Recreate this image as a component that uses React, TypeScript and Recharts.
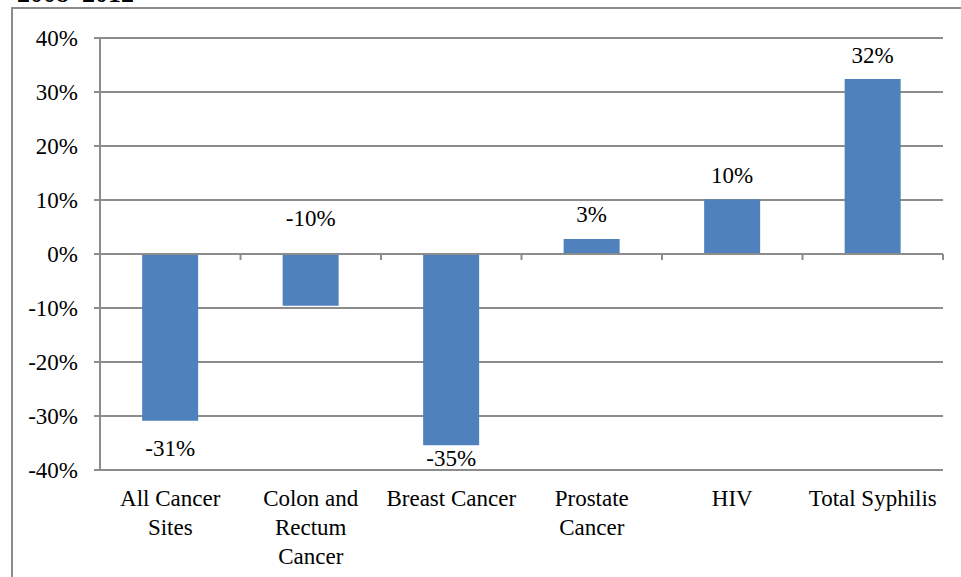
import React from "react";
import { BarChart, Bar, XAxis, YAxis, CartesianGrid, LabelList, ReferenceLine } from "recharts";

const categories = ["All Cancer\nSites", "Colon and\nRectum\nCancer", "Breast Cancer", "Prostate\nCancer", "HIV", "Total Syphilis"];
const changes = [-30.9, -9.6, -35.4, 2.8, 10.1, 32.4];
const changeLabels = ["-31%", "-10%", "-35%", "3%", "10%", "32%"];
const yTicks = [-40, -30, -20, -10, 0, 10, 20, 30, 40];

const data = categories.map((name, i) => ({ name, change: changes[i], label: changeLabels[i] }));

const FONT = "Liberation Serif, Times New Roman, serif";
const FS = 23;
const GRID = "#8c8c8c";
const BAR = "#4F81BD";

// the -10% label sits above the zero line in the original
const labelAboveAxis = new Set([1]);

function CategoryTick(props: any) {
  const { x, y, payload } = props;
  const lines = String(payload.value).split("\n");
  return (
    <text x={x} y={y} textAnchor="middle" fontFamily={FONT} fontSize={FS} fill="#000">
      {lines.map((l, i) => (
        <tspan key={i} x={x} dy={i === 0 ? 28 : 29}>{l}</tspan>
      ))}
    </text>
  );
}

function ValueLabel(props: any) {
  const { x, y, width, height, index } = props;
  const v = changes[index];
  const top = Math.min(y, y + height);
  const bottom = Math.max(y, y + height);
  const cx = x + width / 2;
  let cy;
  if (v >= 0) {
    cy = top - 24;
  } else if (labelAboveAxis.has(index)) {
    cy = top - 36;
  } else {
    const pxPerUnit = (bottom - top) / Math.abs(v);
    const plotBottom = top + 40 * pxPerUnit;
    cy = Math.min(bottom + 28, plotBottom - 12);
  }
  return (
    <text x={cx} y={cy} textAnchor="middle" dominantBaseline="central" fontFamily={FONT} fontSize={FS} fill="#000">
      {changeLabels[index]}
    </text>
  );
}

function ZeroAxis(props: any) {
  const { x1, y1, x2, y2 } = props;
  const n = categories.length;
  const step = (x2 - x1) / n;
  return (
    <g>
      <line x1={x1} y1={y1} x2={x2} y2={y2} stroke={GRID} strokeWidth={2} />
      {Array.from({ length: n + 1 }, (_, i) => (
        <line key={i} x1={x1 + i * step} x2={x1 + i * step} y1={y1} y2={y1 + 6} stroke={GRID} strokeWidth={2} />
      ))}
    </g>
  );
}

export default function App() {
  return (
    <div style={{ position: "absolute", left: 0, top: 0, width: 961, height: 577, overflow: "hidden", background: "#fff" }}>
      <div style={{ position: "absolute", left: 17, top: -19, fontFamily: FONT, fontWeight: "bold", fontSize: 26, lineHeight: "26px" }}>
        2008–2012
      </div>
      <div style={{ position: "absolute", left: 11, top: 7, width: 1000, height: 700, borderLeft: `2px solid ${GRID}`, borderTop: `2px solid ${GRID}` }} />
      <div style={{ position: "absolute", left: 0, top: 0 }}>
        <BarChart width={961} height={577} data={data} margin={{ top: 38, right: 18, bottom: 17, left: 0 }} barCategoryGap="30%">
          <CartesianGrid vertical={false} stroke={GRID} strokeWidth={2} />
          <XAxis dataKey="name" axisLine={false} tickLine={false} height={90} interval={0} tick={<CategoryTick />} />
          <YAxis
            width={100}
            domain={[-40, 40]}
            ticks={yTicks}
            tickFormatter={(v) => `${v}%`}
            axisLine={{ stroke: GRID, strokeWidth: 2 }}
            tickLine={{ stroke: GRID, strokeWidth: 2 }}
            tickSize={6}
            tickMargin={16}
            tick={{ fontFamily: FONT, fontSize: FS, fill: "#000" }}
          />
          <ReferenceLine y={0} shape={<ZeroAxis />} />
          <Bar dataKey="change" fill={BAR} isAnimationActive={false}>
            <LabelList dataKey="label" content={<ValueLabel />} />
          </Bar>
        </BarChart>
      </div>
    </div>
  );
}
